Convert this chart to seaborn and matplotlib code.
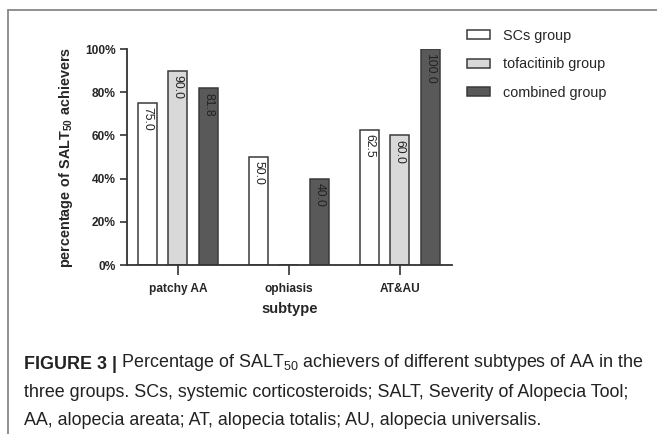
import pandas as pd
import matplotlib.pyplot as plt
import seaborn as sns
from matplotlib.lines import Line2D

subtypes = ['patchy AA', 'ophiasis', 'AT&AU']
groups = ['SCs group', 'tofacitinib group', 'combined group']
scs = [75.0, 50.0, 62.5]
tofa = [90.0, 0.0, 60.0]
combined = [81.8, 40.0, 100.0]
yticks = [0, 20, 40, 60, 80, 100]

df = pd.DataFrame({
    'subtype': subtypes * 3,
    'group': [g for g in groups for _ in subtypes],
    'pct': scs + tofa + combined,
})

sns.set_style('ticks')
plt.rcParams['font.family'] = ['Liberation Sans', 'DejaVu Sans']
plt.rcParams['mathtext.fontset'] = 'custom'
plt.rcParams['mathtext.bf'] = 'Liberation Sans:bold'
plt.rcParams['mathtext.rm'] = 'Liberation Sans'
plt.rcParams['mathtext.default'] = 'regular'

fig = plt.figure(figsize=(6.57, 4.34), dpi=100)
ax = fig.add_axes([0.193, 0.389, 0.495, 0.498])

palette = ['#ffffff', '#d9d9d9', '#595959']
sns.barplot(data=df, x='subtype', y='pct', hue='group', hue_order=groups,
            order=subtypes, palette=palette, width=0.825, gap=0.38,
            edgecolor='#3a3a3a', linewidth=1.1, ax=ax, legend=True)

# value labels inside the top of each bar
for cont, vals in zip(ax.containers, [scs, tofa, combined]):
    for rect, v in zip(cont, vals):
        if v <= 0:
            continue
        ax.annotate(f'{v:.1f}', (rect.get_x() + rect.get_width() / 2, v),
                    xytext=(0, -3), textcoords='offset points',
                    ha='center', va='top', rotation=270, fontsize=8.8,
                    color='#222222')

ax.set_ylim(0, 100)
ax.set_xlim(-0.46, 2.47)
ax.set_yticks(yticks)
ax.set_yticklabels([f'{t}%' for t in yticks])
for lab in ax.get_xticklabels() + ax.get_yticklabels():
    lab.set_fontweight('bold')
    lab.set_fontsize(8.6)
ax.tick_params(axis='y', length=5, width=1.2, color='#333333', pad=3)
ax.tick_params(axis='x', length=7, width=1.2, color='#333333', pad=6)
sns.despine(ax=ax)
for s in ['left', 'bottom']:
    ax.spines[s].set_linewidth(1.3)
    ax.spines[s].set_color('#333333')

ax.set_xlabel('subtype', fontsize=10.6, fontweight='bold', labelpad=5)
ax.set_ylabel(r'$\mathbf{percentage\ of\ SALT_{50}\ achievers}$', fontsize=10.4)
ax.yaxis.set_label_coords(-0.16, 0.5)

ax.legend(loc='upper left', bbox_to_anchor=(0.711, 1 - 29 / 434),
          bbox_transform=fig.transFigure, frameon=False, fontsize=10.4,
          borderpad=0, borderaxespad=0, handlelength=1.6, handleheight=0.6,
          handletextpad=0.9, labelspacing=1.0)

# outer frame of the figure panel
fig.add_artist(Line2D([8 / 657, 1], [1 - 9.5 / 434] * 2, color='#888888', lw=1.3))
fig.add_artist(Line2D([8 / 657] * 2, [0, 1 - 9.5 / 434], color='#888888', lw=1.3))

# caption
cap = dict(fontsize=12.9, color='#222222')
t1 = fig.text(24 / 657, 1 - 369 / 434, 'FIGURE 3 |', fontweight='bold', **cap)
ax.annotate(' Percentage of SALT$_{50}$ achievers of different subtypes of AA in the',
            xy=(1, 0), xycoords=t1, va='bottom', ha='left', **cap)
fig.text(24 / 657, 1 - 397 / 434,
         'three groups. SCs, systemic corticosteroids; SALT, Severity of Alopecia Tool;',
         **cap)
fig.text(24 / 657, 1 - 425 / 434,
         'AA, alopecia areata; AT, alopecia totalis; AU, alopecia universalis.',
         **cap)

fig.savefig('out.png', dpi=100)
